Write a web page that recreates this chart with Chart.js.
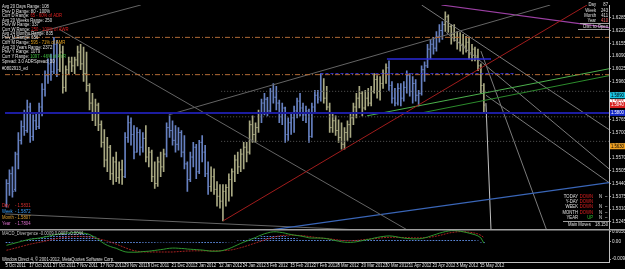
<!DOCTYPE html>
<html>
<head>
<meta charset="utf-8">
<script src="https://cdn.jsdelivr.net/npm/chart.js@4.4.1/dist/chart.umd.min.js"></script>
<style>
  html, body { margin: 0; padding: 0; background: #000; }
  #wrap { width: 625px; height: 269px; }
</style>
</head>
<body>
<div id="wrap"><canvas id="chart" width="625" height="269"></canvas></div>
<script>
// GBPUSD daily bars, 5 Oct 2011 .. 16 May 2012
const opens = [
  1.5330, 1.5440, 1.5490, 1.5410, 1.5590, 1.5660, 1.5730, 1.5710, 1.5830, 1.5680,
  1.5760, 1.5730, 1.5830, 1.5920, 1.5990, 1.6050, 1.6010, 1.6150, 1.6020, 1.6110,
  1.5930, 1.6020, 1.6060, 1.6040, 1.6070, 1.6110, 1.6050, 1.6000, 1.5940, 1.5850,
  1.5800, 1.5840, 1.5740, 1.5650, 1.5560, 1.5625, 1.5490, 1.5550, 1.5470, 1.5510,
  1.5475, 1.5675, 1.5750, 1.5690, 1.5600, 1.5700, 1.5625, 1.5670, 1.5575, 1.5600,
  1.5475, 1.5440, 1.5550, 1.5525, 1.5590, 1.5725, 1.5710, 1.5660, 1.5640, 1.5700,
  1.5600, 1.5540, 1.5460, 1.5575, 1.5625, 1.5500, 1.5650, 1.5600, 1.5490, 1.5425,
  1.5475, 1.5410, 1.5375, 1.5350, 1.5400, 1.5420, 1.5460, 1.5500, 1.5560, 1.5525,
  1.5590, 1.5625, 1.5600, 1.5740, 1.5690, 1.5725, 1.5800, 1.5850, 1.5870, 1.5810,
  1.5910, 1.5880, 1.5850, 1.5780, 1.5825, 1.5690, 1.5750, 1.5775, 1.5810, 1.5860,
  1.5825, 1.5790, 1.5810, 1.5680, 1.5830, 1.5890, 1.5880, 1.5910, 1.5875, 1.5830,
  1.5725, 1.5760, 1.5710, 1.5675, 1.5640, 1.5700, 1.5740, 1.5775, 1.5830, 1.5875,
  1.5900, 1.5825, 1.5875, 1.5850, 1.5910, 1.5970, 1.5910, 1.5950, 1.6000, 1.6030,
  1.5940, 1.5875, 1.5850, 1.5925, 1.5875, 1.5930, 1.5990, 1.5910, 1.5950, 1.5890,
  1.5900, 1.6020, 1.6040, 1.6125, 1.6150, 1.6130, 1.6190, 1.6220, 1.6250, 1.6290,
  1.6240, 1.6200, 1.6185, 1.6160, 1.6150, 1.6140, 1.6160, 1.6100, 1.6125, 1.6090,
  1.6040, 1.5940
];
const highs = [
  1.5460, 1.5510, 1.5525, 1.5600, 1.5700, 1.5760, 1.5815, 1.5865, 1.5850, 1.5790,
  1.5800, 1.5850, 1.5950, 1.6015, 1.6075, 1.6100, 1.6185, 1.6170, 1.6150, 1.6140,
  1.6040, 1.6085, 1.6085, 1.6085, 1.6140, 1.6150, 1.6135, 1.6110, 1.5950, 1.5900,
  1.5870, 1.5850, 1.5760, 1.5715, 1.5675, 1.5635, 1.5575, 1.5600, 1.5550, 1.5560,
  1.5700, 1.5785, 1.5775, 1.5735, 1.5725, 1.5715, 1.5700, 1.5735, 1.5625, 1.5610,
  1.5550, 1.5575, 1.5600, 1.5615, 1.5750, 1.5785, 1.5760, 1.5735, 1.5725, 1.5710,
  1.5685, 1.5550, 1.5600, 1.5650, 1.5640, 1.5660, 1.5685, 1.5635, 1.5550, 1.5525,
  1.5515, 1.5450, 1.5435, 1.5435, 1.5435, 1.5490, 1.5515, 1.5585, 1.5600, 1.5615,
  1.5650, 1.5650, 1.5760, 1.5785, 1.5750, 1.5815, 1.5870, 1.5900, 1.5880, 1.5925,
  1.5950, 1.5935, 1.5865, 1.5850, 1.5830, 1.5775, 1.5800, 1.5835, 1.5875, 1.5900,
  1.5850, 1.5835, 1.5820, 1.5850, 1.5915, 1.5915, 1.6000, 1.5975, 1.5935, 1.5850,
  1.5800, 1.5785, 1.5765, 1.5750, 1.5725, 1.5760, 1.5800, 1.5850, 1.5900, 1.5935,
  1.5910, 1.5915, 1.5925, 1.5935, 1.6000, 1.5990, 1.5985, 1.6020, 1.6050, 1.6065,
  1.5960, 1.5925, 1.5950, 1.5950, 1.5960, 1.6015, 1.6000, 1.5985, 1.5970, 1.5915,
  1.6040, 1.6060, 1.6150, 1.6175, 1.6185, 1.6215, 1.6250, 1.6265, 1.6315, 1.6300,
  1.6250, 1.6250, 1.6215, 1.6210, 1.6200, 1.6190, 1.6185, 1.6150, 1.6135, 1.6125,
  1.6050, 1.5950
];
const lows = [
  1.5320, 1.5380, 1.5370, 1.5400, 1.5515, 1.5640, 1.5685, 1.5700, 1.5650, 1.5660,
  1.5715, 1.5720, 1.5785, 1.5885, 1.5950, 1.5965, 1.6000, 1.5985, 1.6010, 1.5900,
  1.5910, 1.6000, 1.6010, 1.6000, 1.6040, 1.6020, 1.5960, 1.5910, 1.5815, 1.5760,
  1.5735, 1.5710, 1.5625, 1.5525, 1.5500, 1.5460, 1.5435, 1.5450, 1.5440, 1.5435,
  1.5470, 1.5650, 1.5635, 1.5565, 1.5600, 1.5585, 1.5600, 1.5550, 1.5525, 1.5450,
  1.5415, 1.5425, 1.5475, 1.5500, 1.5575, 1.5675, 1.5635, 1.5600, 1.5610, 1.5575,
  1.5515, 1.5400, 1.5450, 1.5525, 1.5465, 1.5490, 1.5550, 1.5475, 1.5385, 1.5400,
  1.5385, 1.5325, 1.5315, 1.5250, 1.5325, 1.5350, 1.5375, 1.5450, 1.5490, 1.5500,
  1.5515, 1.5550, 1.5590, 1.5650, 1.5650, 1.5700, 1.5750, 1.5790, 1.5785, 1.5800,
  1.5850, 1.5815, 1.5750, 1.5740, 1.5650, 1.5660, 1.5690, 1.5700, 1.5775, 1.5785,
  1.5760, 1.5750, 1.5650, 1.5675, 1.5800, 1.5850, 1.5860, 1.5850, 1.5815, 1.5700,
  1.5700, 1.5685, 1.5650, 1.5615, 1.5615, 1.5660, 1.5675, 1.5740, 1.5775, 1.5825,
  1.5785, 1.5815, 1.5835, 1.5835, 1.5900, 1.5875, 1.5865, 1.5925, 1.5950, 1.5915,
  1.5850, 1.5835, 1.5840, 1.5835, 1.5860, 1.5900, 1.5885, 1.5850, 1.5860, 1.5835,
  1.5890, 1.5960, 1.6030, 1.6075, 1.6100, 1.6115, 1.6160, 1.6175, 1.6215, 1.6210,
  1.6150, 1.6165, 1.6125, 1.6115, 1.6100, 1.6110, 1.6075, 1.6065, 1.6065, 1.6015,
  1.5900, 1.5800
];
const closes = [
  1.5440, 1.5490, 1.5400, 1.5590, 1.5660, 1.5730, 1.5710, 1.5830, 1.5680, 1.5760,
  1.5730, 1.5830, 1.5920, 1.5990, 1.6050, 1.6010, 1.6150, 1.6020, 1.6110, 1.5930,
  1.6020, 1.6060, 1.6040, 1.6070, 1.6110, 1.6050, 1.6000, 1.5940, 1.5850, 1.5800,
  1.5840, 1.5740, 1.5650, 1.5560, 1.5625, 1.5490, 1.5550, 1.5470, 1.5510, 1.5475,
  1.5675, 1.5750, 1.5690, 1.5600, 1.5700, 1.5625, 1.5670, 1.5575, 1.5600, 1.5475,
  1.5440, 1.5550, 1.5525, 1.5590, 1.5725, 1.5710, 1.5660, 1.5640, 1.5700, 1.5600,
  1.5540, 1.5460, 1.5575, 1.5625, 1.5500, 1.5650, 1.5600, 1.5490, 1.5425, 1.5475,
  1.5410, 1.5375, 1.5350, 1.5400, 1.5420, 1.5460, 1.5500, 1.5560, 1.5525, 1.5590,
  1.5625, 1.5600, 1.5740, 1.5690, 1.5725, 1.5800, 1.5850, 1.5870, 1.5810, 1.5910,
  1.5880, 1.5850, 1.5780, 1.5825, 1.5690, 1.5750, 1.5775, 1.5810, 1.5860, 1.5825,
  1.5790, 1.5810, 1.5680, 1.5830, 1.5890, 1.5870, 1.5910, 1.5875, 1.5830, 1.5725,
  1.5760, 1.5710, 1.5675, 1.5640, 1.5700, 1.5740, 1.5775, 1.5830, 1.5875, 1.5900,
  1.5825, 1.5875, 1.5850, 1.5910, 1.5970, 1.5910, 1.5950, 1.6000, 1.6030, 1.5940,
  1.5875, 1.5850, 1.5925, 1.5875, 1.5930, 1.5990, 1.5910, 1.5950, 1.5890, 1.5900,
  1.6020, 1.6040, 1.6125, 1.6150, 1.6130, 1.6190, 1.6220, 1.6250, 1.6290, 1.6240,
  1.6200, 1.6185, 1.6160, 1.6150, 1.6140, 1.6160, 1.6100, 1.6125, 1.6090, 1.6040,
  1.5940, 1.5840
];

// bar colouring of the template (trend state), as runs of bar indexes
const trendRuns = [
  [0, 17, 'up'], [18, 39, 'dn'], [40, 46, 'up'], [47, 53, 'dn'], [54, 68, 'up'],
  [69, 85, 'dn'], [86, 106, 'up'], [107, 128, 'dn'], [129, 147, 'up'], [148, 161, 'dn']
];

// time axis
const dateTicks = [0, 8, 16, 24, 32, 40, 48, 56, 64, 72, 80, 88, 96, 104, 112, 120, 128, 136, 144, 152, 160];
const dateLabels = [
  '5 Oct 2011', '17 Oct 2011', '27 Oct 2011', '7 Nov 2011', '17 Nov 2011', '29 Nov 2011',
  '9 Dec 2011', '21 Dec 2011', '2 Jan 2012', '12 Jan 2012', '24 Jan 2012', '3 Feb 2012',
  '15 Feb 2012', '27 Feb 2012', '8 Mar 2012', '20 Mar 2012', '30 Mar 2012', '11 Apr 2012',
  '23 Apr 2012', '3 May 2012', '15 May 2012'
];
const priceTicks = [1.6285, 1.6220, 1.6155, 1.6090, 1.6025, 1.5960, 1.5895, 1.5830, 1.5765,
  1.5700, 1.5635, 1.5570, 1.5505, 1.5440, 1.5375, 1.5310, 1.5245];
const macdTicks = [0.0050, 0, -0.0090];

// MACD_Divergence sub window
const macdMain = [
  -0.0020, -0.0016, -0.0012, -0.0008, -0.0004, 0.0000, 0.0004, 0.0008, 0.0011, 0.0013,
  0.0015, 0.0017, 0.0020, 0.0023, 0.0026, 0.0029, 0.0033, 0.0036, 0.0039, 0.0041,
  0.0042, 0.0043, 0.0044, 0.0045, 0.0045, 0.0044, 0.0042, 0.0040, 0.0035, 0.0028,
  0.0020, 0.0010, -0.0002, -0.0012, -0.0020, -0.0026, -0.0031, -0.0035, -0.0042, -0.0048,
  -0.0053, -0.0055, -0.0055, -0.0055, -0.0055, -0.0054, -0.0052, -0.0051, -0.0050, -0.0048,
  -0.0046, -0.0044, -0.0042, -0.0040, -0.0037, -0.0035, -0.0034, -0.0034, -0.0035, -0.0036,
  -0.0037, -0.0039, -0.0040, -0.0041, -0.0042, -0.0043, -0.0044, -0.0046, -0.0048, -0.0050,
  -0.0050, -0.0050, -0.0049, -0.0046, -0.0042, -0.0037, -0.0031, -0.0024, -0.0017, -0.0010,
  -0.0004, 0.0002, 0.0008, 0.0014, 0.0020, 0.0027, 0.0033, 0.0039, 0.0043, 0.0047,
  0.0049, 0.0049, 0.0047, 0.0045, 0.0042, 0.0038, 0.0035, 0.0032, 0.0030, 0.0028,
  0.0025, 0.0022, 0.0018, 0.0017, 0.0017, 0.0017, 0.0017, 0.0016, 0.0014, 0.0011,
  0.0007, 0.0004, 0.0001, -0.0002, -0.0004, -0.0005, -0.0005, -0.0004, -0.0002, 0.0001,
  0.0004, 0.0007, 0.0010, 0.0013, 0.0017, 0.0020, 0.0023, 0.0025, 0.0027, 0.0028,
  0.0027, 0.0025, 0.0022, 0.0019, 0.0017, 0.0015, 0.0014, 0.0013, 0.0013, 0.0013,
  0.0015, 0.0018, 0.0022, 0.0027, 0.0032, 0.0037, 0.0042, 0.0046, 0.0050, 0.0053,
  0.0055, 0.0055, 0.0054, 0.0052, 0.0049, 0.0046, 0.0042, 0.0038, 0.0034, 0.0028,
  0.0018, -0.0009
];
const macdSignal = [
  -0.0045, -0.0042, -0.0038, -0.0034, -0.0030, -0.0026, -0.0022, -0.0018, -0.0014, -0.0011,
  -0.0008, -0.0005, -0.0002, 0.0001, 0.0005, 0.0008, 0.0011, 0.0014, 0.0017, 0.0019,
  0.0021, 0.0023, 0.0024, 0.0025, 0.0025, 0.0025, 0.0024, 0.0023, 0.0022, 0.0020,
  0.0017, 0.0014, 0.0010, 0.0006, 0.0002, -0.0003, -0.0008, -0.0014, -0.0020, -0.0026,
  -0.0032, -0.0038, -0.0043, -0.0047, -0.0050, -0.0052, -0.0053, -0.0054, -0.0054, -0.0054,
  -0.0054, -0.0054, -0.0054, -0.0054, -0.0054, -0.0054, -0.0054, -0.0053, -0.0052, -0.0051,
  -0.0050, -0.0049, -0.0049, -0.0048, -0.0048, -0.0048, -0.0048, -0.0048, -0.0048, -0.0048,
  -0.0048, -0.0048, -0.0048, -0.0047, -0.0046, -0.0045, -0.0043, -0.0040, -0.0036, -0.0032,
  -0.0028, -0.0023, -0.0018, -0.0013, -0.0008, -0.0003, 0.0002, 0.0007, 0.0012, 0.0017,
  0.0021, 0.0025, 0.0028, 0.0030, 0.0031, 0.0032, 0.0032, 0.0032, 0.0031, 0.0030,
  0.0029, 0.0027, 0.0025, 0.0023, 0.0021, 0.0019, 0.0017, 0.0016, 0.0015, 0.0013,
  0.0011, 0.0009, 0.0007, 0.0005, 0.0004, 0.0003, 0.0003, 0.0004, 0.0005, 0.0006,
  0.0008, 0.0010, 0.0011, 0.0013, 0.0014, 0.0016, 0.0017, 0.0019, 0.0020, 0.0021,
  0.0021, 0.0021, 0.0021, 0.0020, 0.0020, 0.0019, 0.0019, 0.0018, 0.0018, 0.0018,
  0.0018, 0.0019, 0.0020, 0.0022, 0.0024, 0.0027, 0.0030, 0.0034, 0.0038, 0.0042,
  0.0045, 0.0047, 0.0049, 0.0050, 0.0050, 0.0049, 0.0047, 0.0045, 0.0042, 0.0038,
  0.0031, 0.0020
];
const macdHist = [
  -0.0008, -0.0006, -0.0004, -0.0002, 0.0000, 0.0003, 0.0006, 0.0009, 0.0012, 0.0014,
  0.0016, 0.0018, 0.0021, 0.0024, 0.0027, 0.0030, 0.0033, 0.0036, 0.0038, 0.0040,
  0.0041, 0.0042, 0.0043, 0.0044, 0.0044, 0.0043, 0.0041, 0.0038, 0.0034, 0.0029,
  0.0022, 0.0014, 0.0006, -0.0002, -0.0004, -0.0005, -0.0006, -0.0006, -0.0007, -0.0007,
  -0.0008, -0.0008, -0.0008, -0.0007, -0.0006, -0.0006, -0.0005, -0.0005, -0.0005, -0.0005,
  -0.0005, -0.0004, -0.0004, -0.0004, -0.0004, -0.0004, -0.0004, -0.0004, -0.0005, -0.0005,
  -0.0005, -0.0005, -0.0005, -0.0005, -0.0005, -0.0006, -0.0006, -0.0006, -0.0006, -0.0006,
  -0.0006, -0.0006, -0.0006, -0.0005, -0.0004, -0.0003, -0.0002, -0.0001, 0.0001, 0.0003,
  0.0006, 0.0009, 0.0012, 0.0015, 0.0018, 0.0021, 0.0024, 0.0026, 0.0028, 0.0029,
  0.0030, 0.0030, 0.0029, 0.0027, 0.0025, 0.0022, 0.0019, 0.0016, 0.0013, 0.0010,
  0.0008, 0.0007, 0.0006, 0.0006, 0.0006, 0.0006, 0.0006, 0.0006, 0.0005, 0.0005,
  0.0004, 0.0004, 0.0003, 0.0003, 0.0003, 0.0003, 0.0003, 0.0004, 0.0004, 0.0005,
  0.0005, 0.0006, 0.0006, 0.0006, 0.0007, 0.0007, 0.0007, 0.0007, 0.0007, 0.0007,
  0.0007, 0.0006, 0.0006, 0.0006, 0.0006, 0.0006, 0.0006, 0.0006, 0.0006, 0.0006,
  0.0006, 0.0007, 0.0007, 0.0008, 0.0008, 0.0008, 0.0009, 0.0009, 0.0009, 0.0009,
  0.0009, 0.0009, 0.0008, 0.0008, 0.0007, 0.0007, 0.0006, 0.0005, 0.0004, 0.0002,
  -0.0004, -0.0012
];

// horizontal levels: [from bar, to bar, price]
const levels = [
  [-0.5, 203.2, 1.6185],
  [-0.5, 203.2, 1.5995],
  [-0.5, 203.2, 1.5800],
  [128.3, 163.4, 1.6075],
  [105.9, 171.7, 1.6000],
  [72.4, 203.2, 1.5910],
  [72.4, 203.2, 1.5780],
  [72.4, 203.2, 1.5655]
];
const levelStyle = [
  { color: '#b06a36', width: 1, dash: [5, 2, 1, 2] },
  { color: '#b06a36', width: 1, dash: [5, 2, 1, 2] },
  { color: '#1c1ca0', width: 2, dash: [] },
  { color: '#2a2ad8', width: 1.5, dash: [] },
  { color: '#3a3ae0', width: 1, dash: [3, 2] },
  { color: '#5a5a5a', width: 1, dash: [1, 2] },
  { color: '#5a5a5a', width: 1, dash: [1, 2] },
  { color: '#5a5a5a', width: 1, dash: [1, 2] }
];

// trend lines: [bar1, price1, bar2, price2]
const trendLines = [
  [73.1, 1.5250, 195.8, 1.6350],
  [121.6, 1.5785, 203.2, 1.6025],
  [140.0, 1.5800, 203.2, 1.5990],
  [17.9, 1.6225, 135.0, 1.5205],
  [54.7, 1.5790, 183.4, 1.6350],
  [-0.5, 1.6165, 45.3, 1.6350],
  [146.7, 1.6350, 203.2, 1.6235],
  [89.8, 1.5205, 203.2, 1.5445],
  [-0.5, 1.5285, 116.6, 1.5205],
  [140.0, 1.6350, 203.2, 1.5715],
  [161.7, 1.5890, 203.2, 1.5445],
  [148.3, 1.6210, 203.2, 1.5515],
  [160.0, 1.6115, 182.1, 1.5205],
  [161.7, 1.5850, 163.4, 1.5205]
];
const trendStyle = [
  { color: '#a01c1c', width: 1 },
  { color: '#4cb04c', width: 1 },
  { color: '#2c8c2c', width: 1 },
  { color: '#646464', width: 1 },
  { color: '#646464', width: 1 },
  { color: '#646464', width: 1 },
  { color: '#9c40a4', width: 1.2 },
  { color: '#3a66b8', width: 1.2 },
  { color: '#646464', width: 1 },
  { color: '#7a7a7a', width: 1 },
  { color: '#7a7a7a', width: 1 },
  { color: '#7a7a7a', width: 1 },
  { color: '#7a7a7a', width: 1 },
  { color: '#c0c0c0', width: 1 }
];

// coloured price boxes on the right scale
const axisMarks = [1.5890, 1.5855, 1.5840, 1.5800, 1.5630];
const axisMarkStyle = [
  { bg: '#18c4e4', fg: '#000000' },
  { bg: '#ffffff', fg: '#c00000' },
  { bg: '#d82020', fg: '#ffffff' },
  { bg: '#1428c8', fg: '#ffffff' },
  { bg: '#f0a020', fg: '#000000' }
];

const UP = '#6680c0';
const DN = '#a8a882';
const FONT = "4.8px 'Liberation Sans', Arial, sans-serif";
const W = '#e0e0e0';

const barColour = [];
trendRuns.forEach(([a, b, s]) => {
  for (let i = a; i <= b; i++) barColour[i] = s === 'up' ? UP : DN;
});

// dotted fill for the histogram, as MT4 draws it
function dottedFill(col) {
  const c = document.createElement('canvas');
  c.width = 1; c.height = 2;
  const g = c.getContext('2d');
  g.fillStyle = col;
  g.fillRect(0, 0, 1, 1);
  return g.createPattern(c, 'repeat');
}

const idx = opens.map((_, i) => i);

const datasets = [];

levels.forEach((l, k) => {
  const st = levelStyle[k];
  datasets.push({
    type: 'line', yAxisID: 'y', order: 0,
    data: [{ x: l[0], y: l[2] }, { x: l[1], y: l[2] }],
    borderColor: st.color, borderWidth: st.width, borderDash: st.dash,
    pointRadius: 0, tension: 0
  });
});

trendLines.forEach((t, k) => {
  const st = trendStyle[k];
  datasets.push({
    type: 'line', yAxisID: 'y', order: 0,
    data: [{ x: t[0], y: t[1] }, { x: t[2], y: t[3] }],
    borderColor: st.color, borderWidth: st.width,
    pointRadius: 0, tension: 0
  });
});

datasets.push({
  type: 'bar', yAxisID: 'y', order: 2, grouped: false,
  data: idx.map(i => ({ x: i, y: [lows[i], highs[i]] })),
  backgroundColor: barColour, barThickness: 1
});
datasets.push({
  type: 'scatter', yAxisID: 'y', order: 2,
  data: idx.map(i => ({ x: i, y: opens[i] })),
  pointStyle: 'dash', pointRotation: 180, pointRadius: 1.3,
  pointBorderColor: barColour, pointBorderWidth: 1
});
datasets.push({
  type: 'scatter', yAxisID: 'y', order: 2,
  data: idx.map(i => ({ x: i, y: closes[i] })),
  pointStyle: 'dash', pointRotation: 0, pointRadius: 1.3,
  pointBorderColor: barColour, pointBorderWidth: 1
});

datasets.push({
  type: 'bar', yAxisID: 'm', order: 3, grouped: false,
  data: idx.map(i => ({ x: i, y: macdHist[i] })),
  backgroundColor: dottedFill('#5a86d8'), barThickness: 1
});
datasets.push({
  type: 'line', yAxisID: 'm', order: 1,
  data: idx.map(i => ({ x: i, y: macdMain[i] })),
  borderColor: '#2e962e', borderWidth: 1, pointRadius: 0, tension: 0
});
datasets.push({
  type: 'line', yAxisID: 'm', order: 1,
  data: idx.map(i => ({ x: i, y: macdSignal[i] })),
  borderColor: '#a82222', borderWidth: 1, borderDash: [2, 1], pointRadius: 0, tension: 0
});

// texts of the template / indicators
const leftInfo = [
  [7, [['Avg 20 Days Range: 108', W]]],
  [11.5, [['Prev D Range: 80 - 100%', W]]],
  [16, [['Curr D Range: ', W], ['65 - 60% of ADR', '#e02020']]],
  [21, [['Avg 20 Weeks Range: 250', W]]],
  [25, [['Prev W Range: 337', W]]],
  [29.5, [['Curr W Range: ', W], ['250 - 100% of AWR', '#e02020']]],
  [34, [['Avg 24 Months Range: 835', W]]],
  [38, [['Prev M Range: 656', W]]],
  [42.5, [['Curr M Range: ', W], ['595 - 71% of AMR', '#e0a020']]],
  [48, [['Avg 20 Years Range: 2372', W]]],
  [52, [['Prev Y Range: 1079', W]]],
  [56.5, [['Curr Y Range: ', W], ['1097 - 46% of AYR', '#40c040']]],
  [61.5, [['Spread: 3.0 ADRSpread: 30', W]]],
  [69, [['#0802913_ed', W]]]
];
const pivotsText = [
  [206, 'Day', '- 1.5831', '#e03030'],
  [212, 'Week', '- 1.5872', '#3aa0ff'],
  [218, 'Month', '- 1.5807', '#e0a030'],
  [224, 'Year', '- 1.7804', '#e070d0']
];
const rangeText = [
  [5, 'Day', '87', W],
  [10.5, 'Week', '243', W],
  [15.5, 'Month', '411', W],
  [20.5, 'Year', '410', '#ff6060']
];
const movesText = [
  [197, 'TODAY', 'DOWN', true],
  [202, 'Y-DAY', 'DOWN', false],
  [207, 'WEEK', 'DOWN', true],
  [212.5, 'MONTH', 'DOWN', true],
  [217.5, 'YEAR', 'UP', true]
];

// condensed text, like the small MT4 font
function txt(ctx, s, x, y, col, align) {
  const k = 0.88;
  ctx.save();
  ctx.translate(x, y);
  ctx.scale(k, 1);
  ctx.fillStyle = col;
  ctx.textAlign = align || 'left';
  ctx.fillText(s, 0, 0);
  ctx.restore();
  return ctx.measureText(s).width * k;
}

const overlay = {
  id: 'overlay',
  afterDraw(chart) {
    const ctx = chart.ctx;
    const ys = chart.scales.y;
    const xs = chart.scales.x;
    ctx.save();
    // pane separator
    ctx.strokeStyle = '#a0a0a0';
    ctx.lineWidth = 1.5;
    ctx.beginPath();
    ctx.moveTo(0, ys.bottom);
    ctx.lineTo(625, ys.bottom);
    ctx.stroke();

    ctx.font = FONT;
    ctx.textBaseline = 'middle';

    // date labels, at the bar positions of the x scale
    dateTicks.forEach((v, k) => {
      txt(ctx, dateLabels[k], xs.getPixelForValue(v) - 1, 266, W);
    });

    leftInfo.forEach(([y, parts]) => {
      let x = 2;
      parts.forEach(([s, c]) => { x += txt(ctx, s, x, y, c); });
    });
    pivotsText.forEach(([y, a, b, c]) => {
      txt(ctx, a, 2, y, c);
      txt(ctx, b, 15, y, c);
    });
    rangeText.forEach(([y, a, b, c]) => {
      txt(ctx, a, 596, y, W, 'right');
      txt(ctx, b, 608, y, c, 'right');
    });
    ctx.strokeStyle = '#c8c8c8';
    ctx.lineWidth = 0.8;
    ctx.beginPath();
    ctx.moveTo(580, 23.5); ctx.lineTo(609, 23.5);
    ctx.moveTo(578, 29.5); ctx.lineTo(609, 29.5);
    ctx.stroke();
    txt(ctx, 'Dist. to Open', 608, 26.5, W, 'right');

    movesText.forEach(([y, a, b, n]) => {
      txt(ctx, a, 578, y, W, 'right');
      txt(ctx, b, 593, y, b === 'UP' ? '#30c030' : '#e02020', 'right');
      if (n) {
        txt(ctx, 'N', 599, y, W);
        txt(ctx, '\u2013', 605, y, W);
      }
    });
    ctx.beginPath();
    ctx.moveTo(563, 221.5); ctx.lineTo(609, 221.5);
    ctx.stroke();
    txt(ctx, 'Main Moves', 568, 225, W);
    txt(ctx, '18.150', 608, 225, W, 'right');

    txt(ctx, 'MACD_Divergence -0.0009 0.0007 -0.0044', 2, 233.5, '#c0c0c0');
    txt(ctx, 'Window Direct 4, \u00a9 2001-2012, MetaQuotes Software Corp.', 2, 259.5, W);

    // price boxes on the scale
    axisMarks.forEach((p, k) => {
      const y = ys.getPixelForValue(p);
      const st = axisMarkStyle[k];
      ctx.fillStyle = st.bg;
      ctx.fillRect(ys.left + 1, y - 3, 15, 6);
      txt(ctx, p.toFixed(4), ys.left + 2, y, st.fg);
    });
    ctx.restore();
  }
};

const tickFont = { family: "'Liberation Sans', Arial, sans-serif", size: 4.6 };

new Chart(document.getElementById('chart'), {
  type: 'bar',
  data: { datasets },
  options: {
    responsive: false,
    animation: false,
    devicePixelRatio: 1,
    events: [],
    layout: { padding: 0 },
    plugins: { legend: { display: false }, tooltip: { enabled: false } },
    scales: {
      x: {
        type: 'linear', position: 'bottom', min: -0.5, max: 203.2, offset: false,
        grid: { display: true, drawOnChartArea: false, tickLength: 2, color: '#a0a0a0', offset: false },
        border: { display: true, color: '#c0c0c0' },
        ticks: { display: false },
        afterBuildTicks: s => { s.ticks = dateTicks.map(v => ({ value: v })); },
        afterFit: s => { s.height = 7; s.paddingLeft = 0; s.paddingRight = 0; }
      },
      y: {
        type: 'linear', position: 'right', stack: 'panes', stackWeight: 229,
        min: 1.5205, max: 1.6350,
        grid: { display: true, drawOnChartArea: false, tickLength: 2, color: '#a0a0a0' },
        border: { display: true, color: '#c0c0c0' },
        ticks: { color: W, font: tickFont, padding: 1, autoSkip: false, callback: v => v.toFixed(4) },
        afterBuildTicks: s => { s.ticks = priceTicks.map(v => ({ value: v })); },
        afterFit: s => { s.width = 16; s.paddingTop = 0; s.paddingBottom = 0; }
      },
      m: {
        type: 'linear', position: 'right', stack: 'panes', stackWeight: 33,
        min: -0.0105, max: 0.0060,
        grid: { display: true, drawOnChartArea: false, tickLength: 2, color: '#a0a0a0' },
        border: { display: true, color: '#c0c0c0' },
        ticks: { color: W, font: tickFont, padding: 1, autoSkip: false, callback: v => (v === 0 ? '0.00' : v.toFixed(4)) },
        afterBuildTicks: s => { s.ticks = macdTicks.map(v => ({ value: v })); },
        afterFit: s => { s.width = 16; s.paddingTop = 0; s.paddingBottom = 0; }
      }
    }
  },
  plugins: [overlay]
});
</script>
</body>
</html>
